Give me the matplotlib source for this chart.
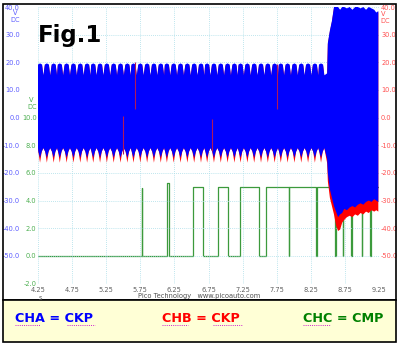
import matplotlib
matplotlib.use('Agg')
import matplotlib.pyplot as plt
import numpy as np
from matplotlib.patches import Rectangle
from matplotlib.lines import Line2D

# ---------------- data read off the scope capture ----------------
# crank teeth (peak times, s) before the engine fires
tooth_t = [4.28, 4.38, 4.48, 4.57, 4.67, 4.77, 4.87, 4.97, 5.06, 5.16, 5.26,
           5.36, 5.46, 5.56, 5.65, 5.75, 5.85, 5.95, 6.05, 6.14, 6.24, 6.34,
           6.44, 6.54, 6.64, 6.73, 6.83, 6.93, 7.03, 7.13, 7.22, 7.32, 7.42,
           7.52, 7.62, 7.72, 7.81, 7.91, 8.01, 8.11, 8.21, 8.31, 8.40]
top_peak, top_shoulder, top_notch = 19.6, 19.2, 15.3
blue_tip, red_tip, low_shoulder, low_notch = -14.5, -16.3, -12.3, -11.0

# envelope after the burst (V, CHA / CHB)
burst_t = [8.49, 8.50, 8.53, 8.56, 8.59, 8.62, 8.65, 8.68, 8.71, 8.74, 8.78, 8.82,
           8.86, 8.90, 8.94, 8.98, 9.02, 9.06, 9.10, 9.14, 9.18, 9.21, 9.24]
burst_top = [16.0, 27.0, 31.5, 35.0, 40.0, 40.0, 40.0, 39.0, 40.0, 40.0, 39.5, 40.0,
             39.0, 40.0, 40.0, 39.5, 40.0, 39.0, 40.0, 39.5, 39.0, 38.0, 38.5]
burst_blue_lo = [-15.0, -20.0, -26.0, -29.0, -32.0, -34.0, -36.0, -35.0, -34.5, -33.0,
                 -33.5, -32.5, -32.0, -32.5, -31.5, -31.0, -31.5, -30.5, -30.0, -30.5,
                 -29.5, -30.0, -30.5]
burst_red_lo = [-16.5, -23.0, -29.0, -32.0, -35.0, -39.0, -41.0, -40.5, -38.0, -37.0,
                -36.0, -35.5, -36.0, -35.0, -35.5, -34.5, -35.0, -34.0, -34.5, -33.5,
                -34.0, -33.5, -34.0]

# CHB glitches drawn over the blue trace
glitch_t = [5.50, 5.67, 6.80, 7.75]
glitch_hi = [0.5, 20.0, -0.5, 19.5]
glitch_lo = [-13.0, 3.0, -12.0, 3.0]

# CHC (cam sensor) square wave, V
green_t = [4.25, 5.77, 5.78, 6.14, 6.17, 6.52, 6.67, 6.89, 7.04, 7.21, 7.49, 7.59,
           7.925, 7.935, 8.325, 8.335, 8.605, 8.615, 8.715, 8.725, 8.845, 8.855,
           8.995, 9.005, 9.125, 9.135, 9.25]
green_v = [0.0, 4.9, 0.0, 5.3, 0.0, 5.0, 0.0, 5.0, 0.0, 5.0, 0.0, 5.0,
           0.0, 5.0, 0.0, 5.0, 0.0, 5.0, 0.0, 5.0, 0.0, 5.0,
           0.0, 5.0, 0.0, 5.0, 5.0]

x_ticks = [4.25, 4.75, 5.25, 5.75, 6.25, 6.75, 7.25, 7.75, 8.25, 8.75, 9.25]
ab_ticks = list(range(-50, 41, 10))
c_ticks = list(range(-2, 11, 2))

legend_txt = ['CHA = CKP', 'CHB = CKP', 'CHC = CMP']
legend_col = ['#0000ff', '#ff0000', '#008000']


# ---------------- build the envelopes ----------------
def envelope(tip):
    tt, tv, bt, bv = [4.25], [16.5], [4.25], [low_notch]
    for tk in tooth_t:
        tt += [tk - 0.03, tk, tk + 0.03, tk + 0.049]
        tv += [top_shoulder, top_peak, top_shoulder, top_notch]
        bt += [tk - 0.025, tk, tk + 0.025, tk + 0.049]
        bv += [low_shoulder, tip, low_shoulder, low_notch]
    return tt, tv, bt, bv


W, H = 400, 345
fig = plt.figure(figsize=(4.0, 3.45), dpi=100)
fig.patch.set_facecolor('white')

def fx(px):
    return px / W

def fy(py):
    return 1 - py / H

ax_left, ax_right, ax_top, ax_bot = 38, 379, 7, 283.5
ax = fig.add_axes([fx(ax_left), fy(ax_bot), fx(ax_right - ax_left), (ax_bot - ax_top) / H])
ax_g = ax.twinx()
ax_g.set_zorder(0)
ax.set_zorder(1)
ax.patch.set_visible(False)

ax.set_xlim(4.25, 9.25)
ax.set_ylim(-60, 40)
ax_g.set_ylim(-2, 18)

# grid
ax.set_xticks(x_ticks)
ax.set_yticks(list(range(-60, 41, 10)))
ax.set_yticklabels([''] + [f'{v:.1f}' for v in ab_ticks])
ax.set_xticklabels([f'{v:.2f}' for v in x_ticks])
ax.grid(True, color='#a8dde8', linestyle=(0, (1, 1.5)), linewidth=0.6)
ax.set_axisbelow(True)
ax.tick_params(axis='y', length=0, pad=13, labelsize=4.8, labelcolor='#5c5cff')
ax.tick_params(axis='x', length=0, pad=2.5, labelsize=4.8, labelcolor='#606060')

ax_g.yaxis.tick_left()
ax_g.set_yticks(c_ticks)
ax_g.set_yticklabels([f'{v:.1f}' for v in c_ticks])
ax_g.tick_params(axis='y', length=0, pad=1, labelsize=4.8, labelcolor='#4caf50')

sec = ax.secondary_yaxis('right')
sec.set_yticks(ab_ticks)
sec.set_yticklabels([f'{v:.1f}' for v in ab_ticks])
sec.tick_params(axis='y', length=0, pad=1.5, labelsize=4.8, labelcolor='#ff5050')

for a in (ax, ax_g, sec):
    for s in a.spines.values():
        s.set_visible(False)

# green trace (behind)
ax_g.plot(green_t, green_v, drawstyle='steps-post', color='#3c9a3c', linewidth=0.9)

# red then blue trace
tt, tv, bt, bv = envelope(red_tip)
xs = tt + burst_t + (bt + burst_t)[::-1]
ys = [v - 0.4 for v in tv + burst_top] + (bv + burst_red_lo)[::-1]
ax.fill(xs, ys, color='#ff0000', linewidth=0)

tt, tv, bt, bv = envelope(blue_tip)
xs = tt + burst_t + (bt + burst_t)[::-1]
ys = tv + burst_top + (bv + burst_blue_lo)[::-1]
ax.fill(xs, ys, color='#0000ff', linewidth=0)

ax.vlines(glitch_t, glitch_lo, glitch_hi, color='#b0185a', linewidth=0.8)

# unit labels
small = dict(fontsize=4.8, ha='center', va='center')
fig.text(fx(15), fy(13), 'V', color='#5c5cff', **small)
fig.text(fx(15), fy(20), 'DC', color='#5c5cff', **small)
fig.text(fx(31), fy(100), 'V', color='#4caf50', **small)
fig.text(fx(32), fy(107), 'DC', color='#4caf50', **small)
fig.text(fx(383), fy(14), 'V', color='#ff5050', **small)
fig.text(fx(385), fy(21), 'DC', color='#ff5050', **small)
fig.text(fx(40), fy(297.5), 's', color='#606060', **small)
fig.text(fx(199), fy(296), 'Pico Technology   www.picoauto.com', color='#505050', **small)

fig.text(fx(38), fy(42), 'Fig.1', fontsize=16.5, fontweight='bold',
         family='DejaVu Sans', color='black', va='baseline', ha='left')

# outer frame and caption box
fig.patches.append(Rectangle((fx(3), fy(300)), fx(393), (300 - 4) / H, transform=fig.transFigure,
                             fill=False, edgecolor='black', linewidth=1.2))
fig.patches.append(Rectangle((fx(3), fy(341.5)), fx(393), (341.5 - 300) / H, transform=fig.transFigure,
                             facecolor='#ffffd6', edgecolor='black', linewidth=1.2))

for x0, txt, col in zip([15, 162, 303], legend_txt, legend_col):
    fig.text(fx(x0), fy(319), txt, color=col, fontsize=9.2, fontweight='bold',
             family='DejaVu Sans', va='center', ha='left')

# spell-check style underlines
for x0, x1 in [(15, 40), (67, 95), (162, 188), (213, 242), (303, 330)]:
    fig.lines.append(Line2D([fx(x0), fx(x1)], [fy(325), fy(325)], transform=fig.transFigure,
                            color='#d020d0', linewidth=0.7, linestyle=(0, (1, 1.2))))

fig.savefig('out.png', dpi=100)
